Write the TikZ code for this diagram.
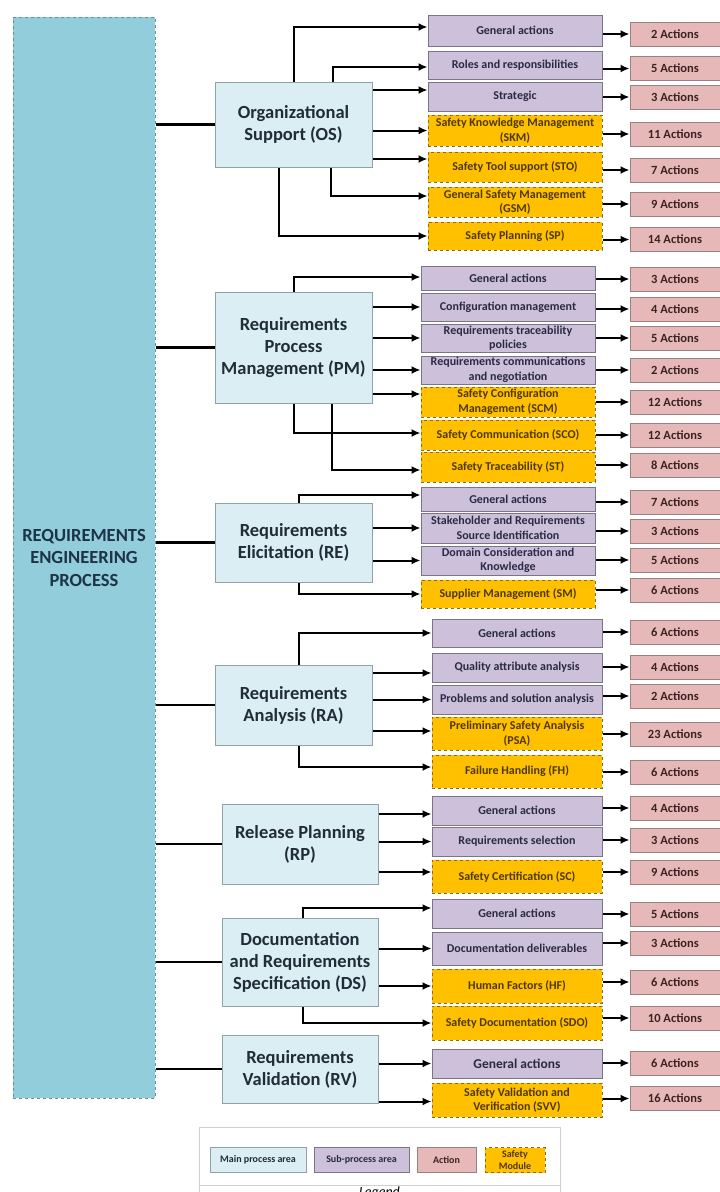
\documentclass[tikz,border=0pt]{standalone}
\usepackage{fontspec}
\setmainfont{Carlito}
\usetikzlibrary{arrows.meta}

\definecolor{leftfill}{HTML}{92CDDC}
\definecolor{leftline}{HTML}{6F8E96}
\definecolor{lefttext}{HTML}{1E3345}
\definecolor{mainfill}{HTML}{DAEEF3}
\definecolor{mainline}{HTML}{8FA2A7}
\definecolor{maintext}{HTML}{222C38}
\definecolor{subfill}{HTML}{CCC0DA}
\definecolor{subline}{HTML}{7A7584}
\definecolor{subtext}{HTML}{2A2A44}
\definecolor{actfill}{HTML}{E6B9B8}
\definecolor{actline}{HTML}{9A8080}
\definecolor{acttext}{HTML}{3C2222}
\definecolor{safefill}{HTML}{FFC000}
\definecolor{safeline}{HTML}{8C6C10}
\definecolor{safetext}{HTML}{4E3800}
\definecolor{legline}{HTML}{CFCFCF}

\tikzset{
  box/.style={line width=1pt, inner sep=1pt, align=center},
  leftbox/.style={box, draw=leftline, dashed, fill=leftfill, text=lefttext,
    font=\fontsize{18.5}{22.5}\selectfont\bfseries},
  mainbox/.style={box, draw=mainline, fill=mainfill, text=maintext,
    font=\fontsize{18.5}{22}\selectfont\bfseries},
  subbox/.style={box, draw=subline, fill=subfill, text=subtext,
    font=\fontsize{12}{14.5}\selectfont\bfseries},
  safebox/.style={box, draw=safeline, dashed, fill=safefill, text=safetext,
    font=\fontsize{12}{14.5}\selectfont\bfseries},
  actbox/.style={box, draw=actline, fill=actfill, text=acttext,
    minimum width=90, minimum height=24,
    font=\fontsize{12.5}{14.5}\selectfont\bfseries},
  colA/.style={minimum width=174},
  colB/.style={minimum width=170},
  link/.style={line width=2.4pt, draw=black},
  arr/.style={line width=2pt, draw=black, -{Latex[length=9pt,width=8pt]}},
  legbox/.style={box, minimum height=25, font=\fontsize{10}{11.5}\selectfont\bfseries},
}

\begin{document}
\begin{tikzpicture}[x=1pt, y=-1pt]
\useasboundingbox (0,0) rectangle (720,1192);

% process column
\node[leftbox, minimum width=142, minimum height=1081] (L) at (84,557.5)
  {REQUIREMENTS\\ENGINEERING\\PROCESS};

% main process areas
\node[mainbox, minimum width=157, minimum height=85]  (OS) at (293.5,124.5) {Organizational\\Support (OS)};
\node[mainbox, minimum width=157, minimum height=111] (PM) at (293.5,347.5) {Requirements\\Process\\Management (PM)};
\node[mainbox, minimum width=157, minimum height=79]  (RE) at (293.5,542.5) {Requirements\\Elicitation (RE)};
\node[mainbox, minimum width=157, minimum height=80]  (RA) at (293.5,705)   {Requirements\\Analysis (RA)};
\node[mainbox, minimum width=156, minimum height=80]  (RP) at (300,844)     {Release Planning\\(RP)};
\node[mainbox, minimum width=156, minimum height=88]  (DS) at (300,962)     {Documentation\\and Requirements\\Specification (DS)};
\node[mainbox, minimum width=156, minimum height=68]  (RV) at (300,1069)    {Requirements\\Validation (RV)};

\foreach \m in {OS,PM,RE,RA,RP,DS,RV}
  \draw[link] (\m.west -| L.east) -- (\m.west);

% Organizational Support
\node[subbox,  colA, minimum height=31] (os1) at (515,30.5)  {General actions};
\node[subbox,  colA, minimum height=28] (os2) at (515,65)    {Roles and responsibilities};
\node[subbox,  colA, minimum height=29] (os3) at (515,96.5)  {Strategic};
\node[safebox, colA, minimum height=31] (os4) at (515,130.5) {Safety Knowledge Management\\(SKM)};
\node[safebox, colA, minimum height=30] (os5) at (515,167)   {Safety Tool support (STO)};
\node[safebox, colA, minimum height=30] (os6) at (515,202)   {General Safety Management\\(GSM)};
\node[safebox, colA, minimum height=28] (os7) at (515,236)   {Safety Planning (SP)};

\node[actbox] (a11) at (675,34)    {2 Actions};
\node[actbox] (a12) at (675,68.5)  {5 Actions};
\node[actbox] (a13) at (675,97)    {3 Actions};
\node[actbox] (a14) at (675,134)   {11 Actions};
\node[actbox] (a15) at (675,170)   {7 Actions};
\node[actbox] (a16) at (675,204)   {9 Actions};
\node[actbox] (a17) at (675,239.5) {14 Actions};

\draw[arr] (OS.north) |- ([yshift=3.5pt]os1.west);
\draw[arr] ([xshift=39.5pt]OS.north) |- ([yshift=-2pt]os2.west);
\draw[arr] ([yshift=6.5pt]os3.west -| OS.east) -- ([yshift=6.5pt]os3.west);
\draw[arr] (os4.west -| OS.east) -- (os4.west);
\draw[arr] ([yshift=8pt]os5.west -| OS.east) -- ([yshift=8pt]os5.west);
\draw[arr] ([xshift=37.5pt]OS.south) |- ([yshift=6pt]os6.west);
\draw[arr] ([xshift=-14.5pt]OS.south) |- (os7.west);

% Requirements Process Management
\node[subbox,  colA, minimum height=24] (pm1) at (508,278.5) {General actions};
\node[subbox,  colA, minimum height=28] (pm2) at (508,307)   {Configuration management};
\node[subbox,  colA, minimum height=28] (pm3) at (508,338)   {Requirements traceability\\policies};
\node[subbox,  colA, minimum height=28] (pm4) at (508,370)   {Requirements communications\\and negotiation};
\node[safebox, colA, minimum height=30] (pm5) at (508,402)   {Safety Configuration\\Management (SCM)};
\node[safebox, colA, minimum height=30] (pm6) at (508,435)   {Safety Communication (SCO)};
\node[safebox, colA, minimum height=30] (pm7) at (508,467)   {Safety Traceability (ST)};

\node[actbox] (a21) at (675,279) {3 Actions};
\node[actbox] (a22) at (675,309) {4 Actions};
\node[actbox] (a23) at (675,338) {5 Actions};
\node[actbox] (a24) at (675,370) {2 Actions};
\node[actbox] (a25) at (675,402) {12 Actions};
\node[actbox] (a26) at (675,435) {12 Actions};
\node[actbox] (a27) at (675,465) {8 Actions};

\draw[arr] (PM.north) |- ([yshift=1.5pt]pm1.west);
\draw[arr] (pm2.west -| PM.east) -- (pm2.west);
\draw[arr] (pm3.west -| PM.east) -- (pm3.west);
\draw[arr] (pm4.west -| PM.east) -- (pm4.west);
\draw[arr] ([yshift=8pt]pm5.west -| PM.east) -- ([yshift=8pt]pm5.west);
\draw[arr] (PM.south) |- ([yshift=2pt]pm6.west);
\draw[arr] ([xshift=38.5pt]PM.south) |- ([yshift=-3pt]pm7.west);

% Requirements Elicitation
\node[subbox,  colA, minimum height=24] (re1) at (508,499)   {General actions};
\node[subbox,  colA, minimum height=30] (re2) at (508,528)   {Stakeholder and Requirements\\Source Identification};
\node[subbox,  colA, minimum height=29] (re3) at (508,560.5) {Domain Consideration and\\Knowledge};
\node[safebox, colA, minimum height=28] (re4) at (508,594)   {Supplier Management (SM)};

\node[actbox] (a31) at (675,502) {7 Actions};
\node[actbox] (a32) at (675,531) {3 Actions};
\node[actbox] (a33) at (675,560) {5 Actions};
\node[actbox] (a34) at (675,590) {6 Actions};

\draw[arr] ([xshift=5.5pt]RE.north) |- ([yshift=4pt]re1.west);
\draw[arr] (re2.west -| RE.east) -- (re2.west);
\draw[arr] (re3.west -| RE.east) -- (re3.west);
\draw[arr] ([xshift=5.5pt]RE.south) |- (re4.west);

% Requirements Analysis
\node[subbox,  colB, minimum height=28] (ra1) at (517,633)   {General actions};
\node[subbox,  colB, minimum height=29] (ra2) at (517,667.5) {Quality attribute analysis};
\node[subbox,  colB, minimum height=29] (ra3) at (517,699.5) {Problems and solution analysis};
\node[safebox, colB, minimum height=33] (ra4) at (517,733.5) {Preliminary Safety Analysis\\(PSA)};
\node[safebox, colB, minimum height=33] (ra5) at (517,771.5) {Failure Handling (FH)};

\node[actbox] (a41) at (675,632) {6 Actions};
\node[actbox] (a42) at (675,667) {4 Actions};
\node[actbox] (a43) at (675,696) {2 Actions};
\node[actbox] (a44) at (675,734) {23 Actions};
\node[actbox] (a45) at (675,772) {6 Actions};

\draw[arr] ([xshift=5.5pt]RA.north) |- (ra1.west);
\draw[arr] ([yshift=-5.5pt]ra2.west -| RA.east) -- ([yshift=-5.5pt]ra2.west);
\draw[arr] (ra3.west -| RA.east) -- (ra3.west);
\draw[arr] ([yshift=2.5pt]ra4.west -| RA.east) -- ([yshift=2.5pt]ra4.west);
\draw[arr] ([xshift=5.5pt]RA.south) |- ([yshift=4.5pt]ra5.west);

% Release Planning
\node[subbox,  colB, minimum height=29] (rp1) at (517,810.5) {General actions};
\node[subbox,  colB, minimum height=29] (rp2) at (517,841.5) {Requirements selection};
\node[safebox, colB, minimum height=33] (rp3) at (517,876.5) {Safety Certification (SC)};

\node[actbox] (a51) at (675,808) {4 Actions};
\node[actbox] (a52) at (675,840) {3 Actions};
\node[actbox] (a53) at (675,872) {9 Actions};

\draw[arr] ([yshift=-3.5pt]rp1.west -| RP.east) -- ([yshift=-3.5pt]rp1.west);
\draw[arr] (rp2.west -| RP.east) -- (rp2.west);
\draw[arr] ([yshift=4.5pt]rp3.west -| RP.east) -- ([yshift=4.5pt]rp3.west);

% Documentation and Requirements Specification
\node[subbox,  colB, minimum height=29] (ds1) at (517,913.5) {General actions};
\node[subbox,  colB, minimum height=33] (ds2) at (517,948.5) {Documentation deliverables};
\node[safebox, colB, minimum height=34] (ds3) at (517,986)   {Human Factors (HF)};
\node[safebox, colB, minimum height=34] (ds4) at (517,1023)  {Safety Documentation (SDO)};

\node[actbox] (a61) at (675,914)  {5 Actions};
\node[actbox] (a62) at (675,943)  {3 Actions};
\node[actbox] (a63) at (675,982)  {6 Actions};
\node[actbox] (a64) at (675,1018) {10 Actions};

\draw[arr] ([xshift=3pt]DS.north) |- ([yshift=5.5pt]ds1.west);
\draw[arr] (ds2.west -| DS.east) -- (ds2.west);
\draw[arr] (ds3.west -| DS.east) -- (ds3.west);
\draw[arr] ([xshift=3pt]DS.south) |- (ds4.west);

% Requirements Validation
\node[subbox, colB, minimum height=29, font=\fontsize{13.5}{16}\selectfont\bfseries] (rv1) at (517,1063.5) {General actions};
\node[safebox, colB, minimum height=34] (rv2) at (517,1100) {Safety Validation and\\Verification (SVV)};

\node[actbox] (a71) at (675,1063)   {6 Actions};
\node[actbox] (a72) at (675,1098.5) {16 Actions};

\draw[arr] (rv1.west -| RV.east) -- (rv1.west);
\draw[arr] ([yshift=-1.5pt]rv2.west -| RV.east) -- ([yshift=-1.5pt]rv2.west);

% sub-process area -> actions
\foreach \s/\a in {os1/a11,os2/a12,os3/a13,os4/a14,os5/a15,os6/a16,os7/a17,
                   pm1/a21,pm2/a22,pm3/a23,pm4/a24,pm5/a25,pm6/a26,pm7/a27,
                   re1/a31,re2/a32,re3/a33,re4/a34,
                   ra1/a41,ra2/a42,ra3/a43,ra4/a44,ra5/a45,
                   rp1/a51,rp2/a52,rp3/a53,
                   ds1/a61,ds2/a62,ds3/a63,ds4/a64,
                   rv1/a71,rv2/a72}
  \draw[arr] (\a.west -| \s.east) -- (\a.west);

% legend
\node[draw=legline, line width=0.8pt, minimum width=361, minimum height=80] (legframe) at (379.5,1167) {};
\node[mainbox, legbox, minimum width=96] (lg1) at (258,1160)   {Main process area};
\node[subbox,  legbox, minimum width=95] (lg2) at (361.5,1160) {Sub-process area};
\node[actbox,  legbox, minimum width=59] (lg3) at (446.5,1160) {Action};
\node[safebox, legbox, minimum width=60] (lg4) at (515,1160)   {Safety\\Module};
\coordinate (sepL) at ([yshift=-18pt]legframe.west);
\draw[legline, line width=0.8pt] (sepL) -- (sepL -| legframe.east);
\node[font=\fontsize{14}{16}\selectfont\itshape, text=black, anchor=north, inner sep=0pt] (legtext) at ([yshift=-1.5pt]sepL -| legframe.center) {Legend};
\end{tikzpicture}
\end{document}
